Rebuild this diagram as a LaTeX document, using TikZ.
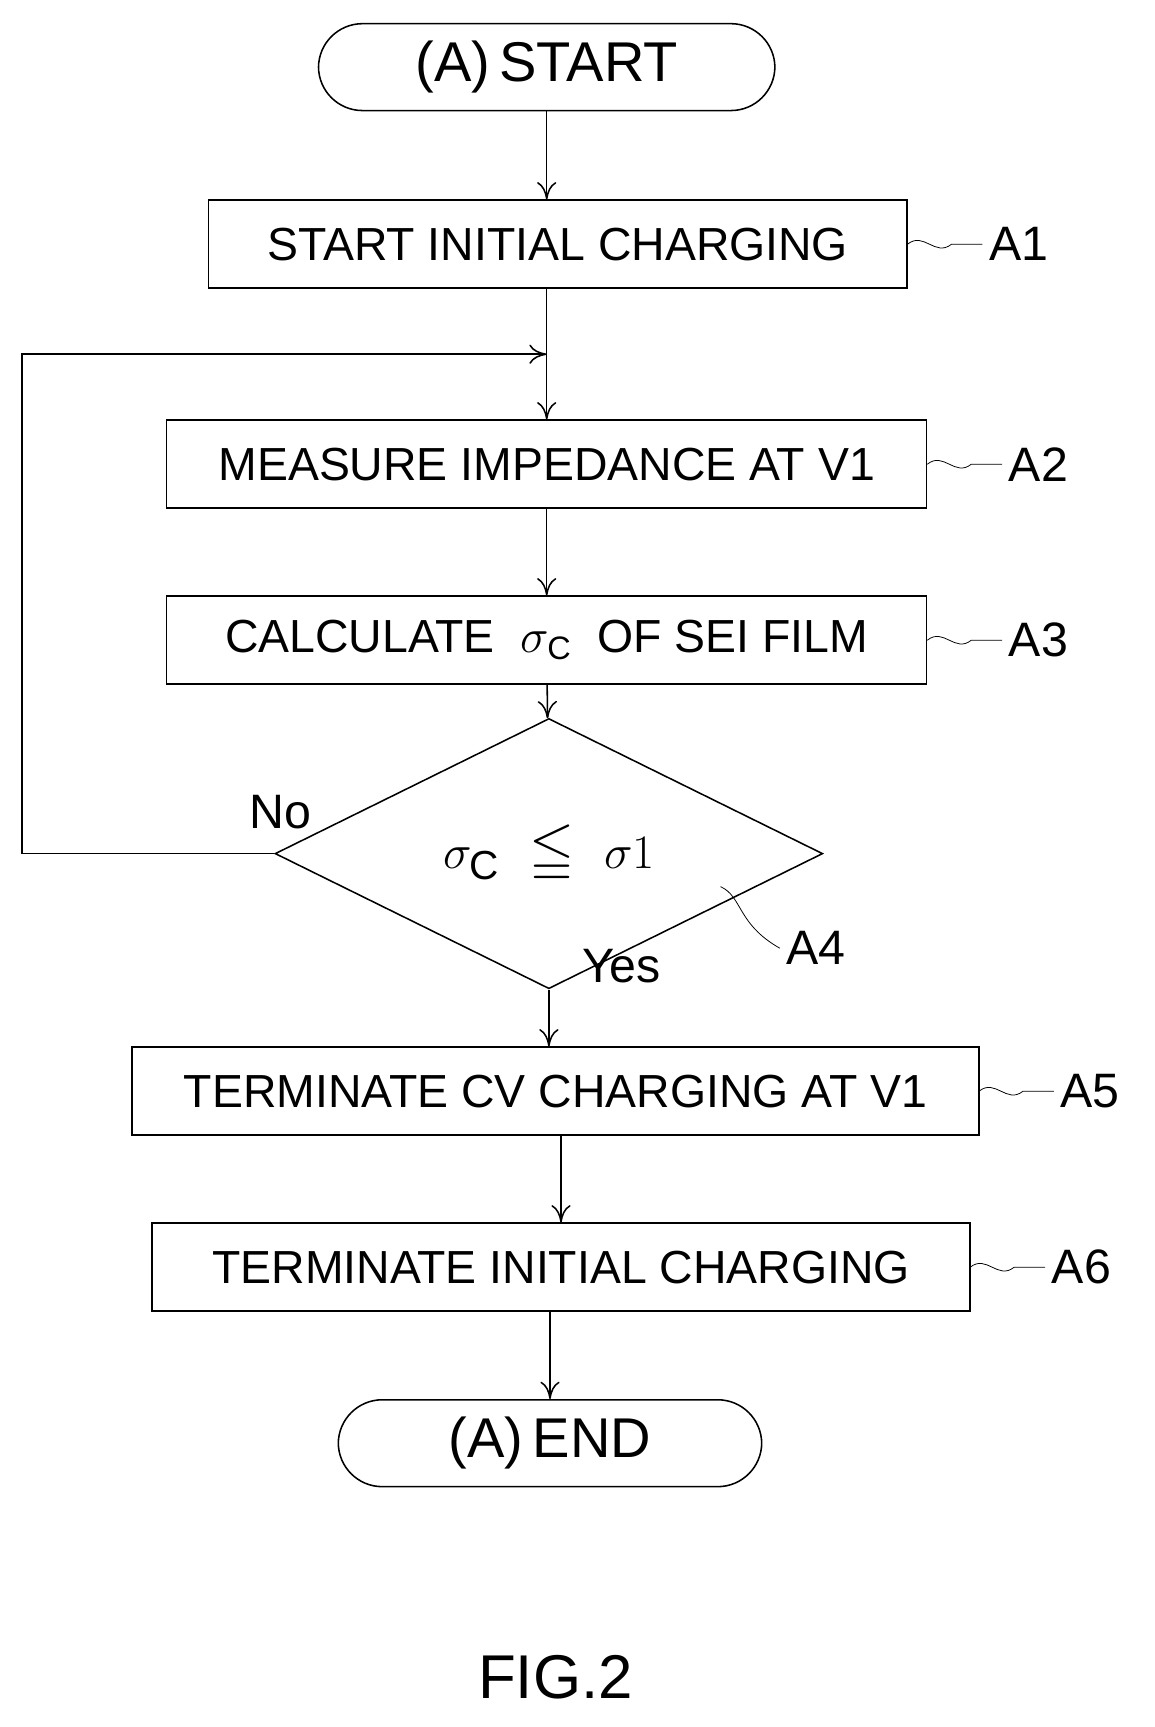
\documentclass[tikz,border=0pt]{standalone}
\usepackage{amssymb}
\usepackage{fontspec}
\setmainfont{Liberation Sans}
\usetikzlibrary{shapes.geometric, arrows.meta}
\tikzset{
  % process boxes
  proc/.style={draw, thick, minimum height=1.6cm, inner sep=0pt},
  term/.style={draw, thick, rounded corners=0.8cm, minimum height=1.58cm, inner sep=0pt, font=\fontsize{29}{32}\selectfont},
  test/.style={draw, thick, diamond, minimum width=9.96cm, minimum height=2.94cm, inner sep=0pt},
  flow/.style={-{To[length=9pt,width=10pt]}, thick},
  tag/.style={font=\fontsize{25}{28}\selectfont},
}
\begin{document}
\begin{tikzpicture}[x=0.02cm, y=-0.02cm, font=\fontsize{24}{28}\selectfont]
  \useasboundingbox (0,0) rectangle (1050,1570);

  \node[term, minimum width=8.3cm] (start) at (497,61) {(A)\,START};
  \node[proc, minimum width=12.7cm] (A1) at (507,222) {START INITIAL CHARGING};
  \node[proc, minimum width=13.82cm] (A2) at (497,422) {MEASURE IMPEDANCE AT V1};
  \node[proc, minimum width=13.82cm] (A3) at (497,582) {CALCULATE \ $\sigma_{\mathrm C}$\ \ OF SEI FILM};
  \node[test, font=\fontsize{30}{34}\selectfont] (A4) at (499,776) {$\sigma_{\mathrm C}\ \leqq\ \sigma 1$};
  \node[proc, minimum width=15.4cm] (A5) at (505,992) {TERMINATE CV CHARGING AT V1};
  \node[proc, minimum width=14.88cm] (A6) at (510,1152) {TERMINATE INITIAL CHARGING};
  \node[term, minimum width=7.7cm] (end) at (500,1312) {(A)\,END};

  \coordinate (join) at (497,322);
  \coordinate (c1) at (20,776);
  \coordinate (c2) at (20,322);

  \draw[flow] (start) -- (A1.north -| start);
  \draw[thick] (A1.south -| join) -- (join);
  \draw[flow] (join) -- (A2);
  \draw[flow] (A2) -- (A3);
  \draw[flow] (A3) -- (A4);
  \draw[flow] (A4.south) -- (A4.south |- A5.north);
  \draw[flow] (A5.south -| A6) -- (A6);
  \draw[flow] (A6.south -| end) -- (end);
  \draw[flow] (A4.west) -- (c1) -- (c2) -- (join);

  \node[tag] (no) at (255,738) {No};
  \node[tag] (yes) at (565,878) {Yes};

  % step labels
  \foreach \n/\x/\y in {A1/825/222, A2/843/422, A3/843/582, A5/890/992, A6/882/1152} {
    \draw (\x,\y) .. controls +(15,-12) and +(-15,12) .. +(40,0) -- +(68,0);
    \node[tag, anchor=west] (l\n) at (\x+68,\y) {\n};
  }
  \node[tag] (lA4) at (742,862) {A4};
  \draw (655,806) .. controls (675,815) and (670,840) .. (lA4.west);

  \node[font=\fontsize{32}{36}\selectfont] (fig) at (505,1525) {FIG.2};
\end{tikzpicture}
\end{document}
